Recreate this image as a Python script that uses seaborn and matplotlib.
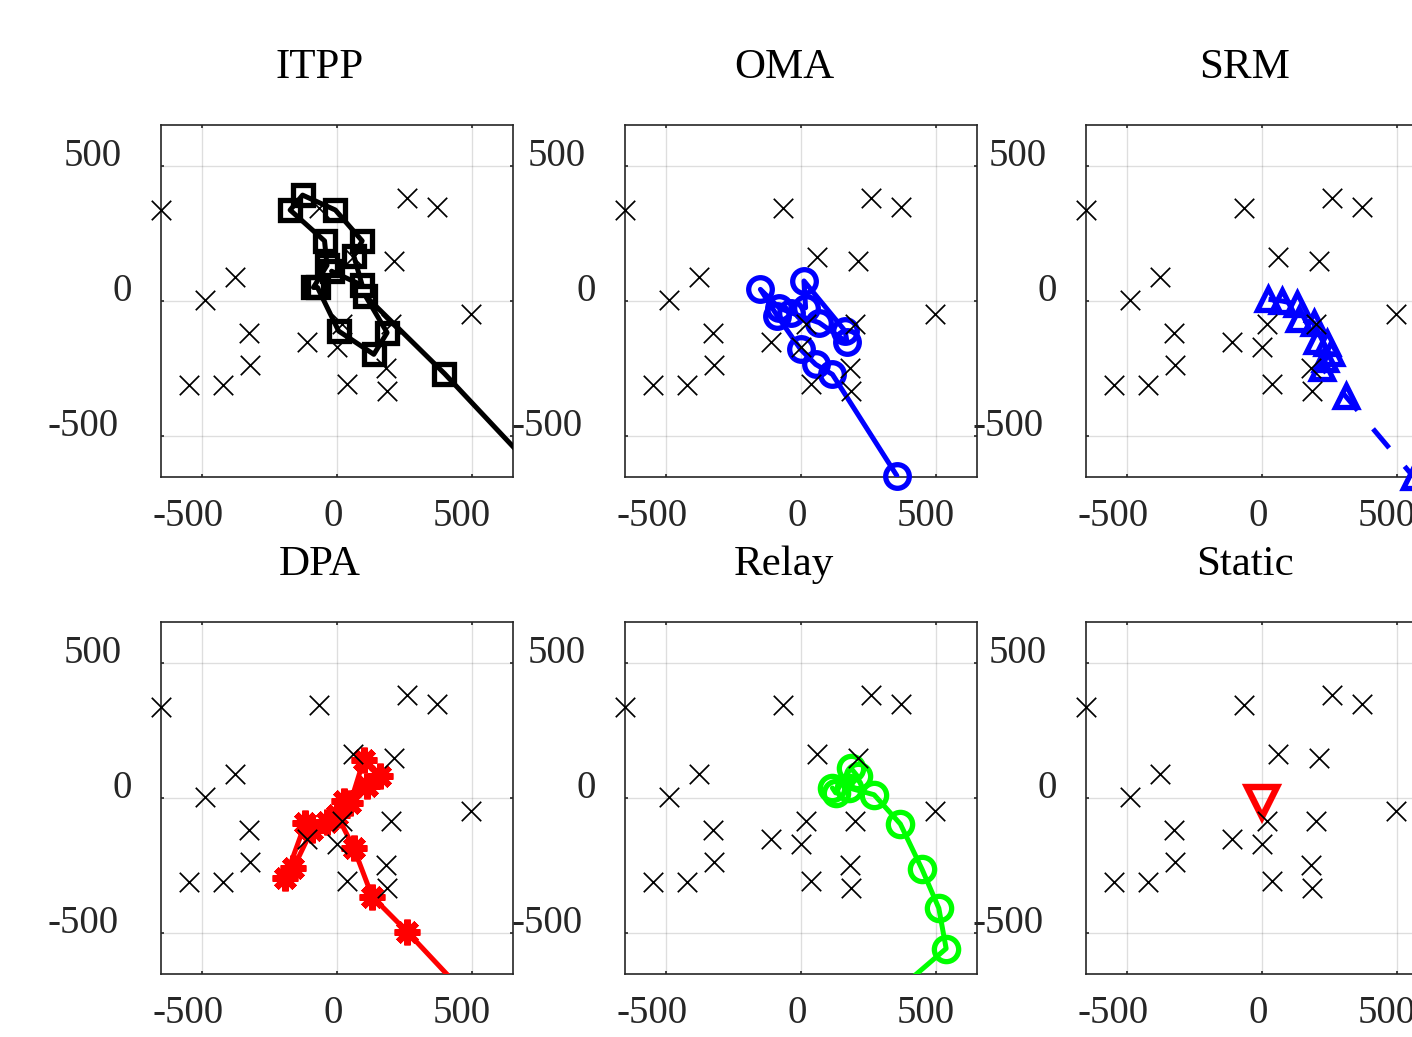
import numpy as np
import pandas as pd
import matplotlib
matplotlib.use("Agg")
import matplotlib.pyplot as plt
from matplotlib.transforms import ScaledTranslation
import seaborn as sns

# Ground user positions (m)
user_x = [-650, -65, 260, 368, 59, 209, -375, -486, 494, 20, 200, -325, -112, 0,
          -321, 180, -547, -421, 38, 184]
user_y = [337, 343, 379, 349, 163, 148, 90, 2, -47, -84, -86, -120, -151, -169,
          -236, -247, -311, -311, -305, -331]

# UAV trajectories (m) for each scheme
itpp_x = [-20, 93, 62, 93, -6, -127, -173, -46, -37, -87, -72, 6, 136, 185, 105, 397, 760]
itpp_y = [110, 58, 167, 222, 336, 391, 336, 222, 132, 50, 50, -111, -197, -117, 19, -268, -655]

oma_x = [17, 11, 163, 170, 67, -38, -81, -150, -87, -1, 54, 116, 354]
oma_y = [-25, 74, -111, -152, -80, -43, -25, 43, -56, -179, -234, -271, -645]

srm_x = [24, 74, 130, 136, 191, 204, 241, 253, 234, 222, 309, 560]
srm_y = [6, 0, -12, -68, -80, -148, -154, -191, -216, -247, -352, -650]

dpa_x = [49, 99, 160, 111, 25, -37, -117, -191, -161, -93, 0, 62, 130, 259, 480]
dpa_y = [-19, 142, 80, 43, -12, -87, -93, -296, -259, -117, -62, -185, -364, -494, -730]

relay_x = [116, 128, 184, 209, 178, 270, 367, 447, 509, 536, 380]
relay_y = [37, 19, 111, 80, 37, 12, -96, -263, -407, -556, -690]

static_x = [0]
static_y = [-15]

titles = ["ITPP", "OMA", "SRM", "DPA", "Relay", "Static"]
tick_values = [-500, 0, 500]
LIM = 650

trajectories = [(itpp_x, itpp_y), (oma_x, oma_y), (srm_x, srm_y),
                (dpa_x, dpa_y), (relay_x, relay_y), (static_x, static_y)]

styles = [
    dict(color="black", marker="s", ms=14, mew=3.8, ls="-"),
    dict(color="blue", marker="o", ms=17, mew=3.8, ls="-"),
    dict(color="blue", marker="^", ms=15.5, mew=3.8, ls=(0, (5.0, 4.8))),
    dict(color="red", marker=(8, 2, 0), ms=18.5, mew=4.6, ls="-"),
    dict(color=(0, 1, 0), marker="o", ms=17.5, mew=3.8, ls="-"),
    dict(color="red", marker="v", ms=21, mew=4.6, ls="-"),
]

sns.set_theme(style="ticks")
plt.rcParams["font.family"] = ["Liberation Serif", "DejaVu Serif"]
plt.rcParams["axes.unicode_minus"] = False

W, H = 1412, 1037
fig = plt.figure(figsize=(W / 100, H / 100), dpi=100)
fig.patch.set_facecolor("white")

lefts = [161, 625, 1086]
tops = [125, 622]
side = 352
dark = (0.15, 0.15, 0.15)
lw = 3.6

users = pd.DataFrame({"x": user_x, "y": user_y})
axes = []
for i, (name, (tx, ty), st) in enumerate(zip(titles, trajectories, styles)):
    r, c = divmod(i, 3)
    ax = fig.add_axes([lefts[c] / W, 1 - (tops[r] + side) / H, side / W, side / H])
    ax.set_facecolor("white")
    traj = pd.DataFrame({"x": tx, "y": ty})

    # path (clipped to the axes)
    if len(traj) > 1:
        sns.lineplot(data=traj, x="x", y="y", sort=False, estimator=None, ax=ax,
                     color=st["color"], lw=lw, linestyle=st["ls"], zorder=3)
    # waypoints inside the area, markers drawn whole
    inside = traj[(traj.x.abs() <= LIM) & (traj.y.abs() <= LIM)]
    sns.lineplot(data=inside, x="x", y="y", sort=False, estimator=None, ax=ax,
                 linestyle="none", marker=st["marker"], markersize=st["ms"],
                 mfc="none", mec=st["color"], mew=st["mew"], clip_on=False, zorder=4)
    # ground users
    sns.scatterplot(data=users, x="x", y="y", marker="x", s=14 ** 2,
                    color="black", linewidth=1.25, ax=ax, clip_on=False, zorder=5)

    ax.set_xlim(-LIM, LIM)
    ax.set_ylim(-LIM, LIM)
    ax.set_xticks(tick_values)
    ax.set_yticks(tick_values)
    ax.set_xlabel("")
    ax.set_ylabel("")
    ax.grid(True, color=dark, alpha=0.15, linewidth=1.0)
    ax.set_axisbelow(True)
    for sp in ax.spines.values():
        sp.set_visible(True)
        sp.set_color(dark)
        sp.set_linewidth(1.2)
    ax.tick_params(direction="in", length=2.5, width=1.2, color=dark,
                   labelcolor=dark, labelsize=28, top=True, right=True)
    ax.tick_params(axis="x", pad=35.5)
    ax.tick_params(axis="y", pad=17)
    for lab in ax.get_xticklabels() + ax.get_yticklabels():
        lab.set_verticalalignment("baseline")

    ax.set_title(name, fontsize=31, pad=33.6, color="black")
    ax.title.set_x(0.5 - 17 / side)
    axes.append(ax)

# nudge tick labels horizontally according to their width
fig.canvas.draw()
for ax in axes:
    for lab in ax.get_xticklabels():
        w = lab.get_window_extent().width
        lab.set_transform(lab.get_transform() +
                          ScaledTranslation(-0.19 * w / 100, 0, fig.dpi_scale_trans))
    for lab in ax.get_yticklabels():
        w = lab.get_window_extent().width
        lab.set_transform(lab.get_transform() +
                          ScaledTranslation(-0.27 * w / 100, 0, fig.dpi_scale_trans))

fig.savefig("out.png", dpi=100, facecolor="white")
